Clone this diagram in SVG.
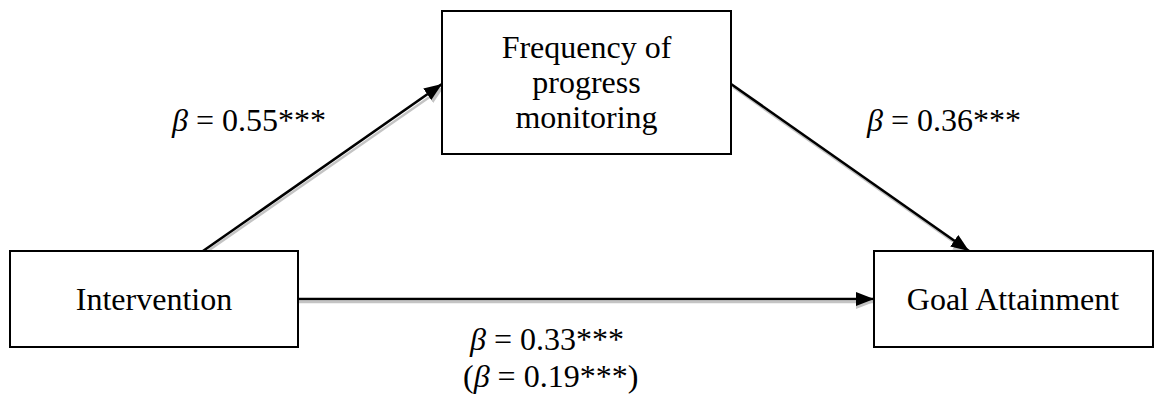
<svg xmlns="http://www.w3.org/2000/svg" width="1154" height="400" viewBox="0 0 1154 400">
  <style>
    .box { fill: #ffffff; stroke: #000000; stroke-width: 2; }
    .lbl { font-family: "Liberation Serif", "Times New Roman", serif; font-size: 32px; fill: #000000; }
    .beta { font-style: italic; }
    .edge { stroke: #000000; stroke-width: 2.6; fill: none; }
    .shadow { stroke: #c4c4c4; stroke-width: 2.5; fill: none; }
  </style>
  <defs>
    <marker id="arrow" markerUnits="userSpaceOnUse" markerWidth="18" markerHeight="14" refX="18" refY="7" orient="auto">
      <path d="M0,0 L18,7 L0,14 Z" fill="#000000"/>
    </marker>
    <marker id="arrowShadow" markerUnits="userSpaceOnUse" markerWidth="18" markerHeight="14" refX="18" refY="7" orient="auto">
      <path d="M0,0 L18,7 L0,14 Z" fill="#c4c4c4"/>
    </marker>
  </defs>

  <g id="connectors">
    <line class="shadow" x1="205" y1="253" x2="444" y2="87" marker-end="url(#arrowShadow)"/>
    <line class="shadow" x1="733" y1="87" x2="971" y2="254" marker-end="url(#arrowShadow)"/>
    <line class="shadow" x1="298" y1="302" x2="874" y2="302" marker-end="url(#arrowShadow)"/>
    <line class="edge" x1="203" y1="251" x2="442" y2="84" marker-end="url(#arrow)"/>
    <line class="edge" x1="731" y1="84" x2="969" y2="251" marker-end="url(#arrow)"/>
    <line class="edge" x1="298" y1="299" x2="874" y2="299" marker-end="url(#arrow)"/>
  </g>

  <g id="node-frequency">
    <rect class="box" x="442" y="11" width="289" height="143"/>
    <text class="lbl" x="586.5" y="58" text-anchor="middle">Frequency of</text>
    <text class="lbl" x="586.5" y="93" text-anchor="middle">progress</text>
    <text class="lbl" x="586.5" y="128" text-anchor="middle">monitoring</text>
  </g>

  <g id="node-intervention">
    <rect class="box" x="10" y="251" width="288" height="96"/>
    <text class="lbl" x="154" y="310" text-anchor="middle">Intervention</text>
  </g>

  <g id="node-goal">
    <rect class="box" x="874" y="251" width="279" height="96"/>
    <text class="lbl" x="1013" y="310" text-anchor="middle">Goal Attainment</text>
  </g>

  <g id="labels">
    <text class="lbl" x="172" y="131"><tspan class="beta">β</tspan> = 0.55***</text>
    <text class="lbl" x="867" y="131"><tspan class="beta">β</tspan> = 0.36***</text>
    <text class="lbl" x="470" y="350"><tspan class="beta">β</tspan> = 0.33***</text>
    <text class="lbl" x="463" y="387">(<tspan class="beta">β</tspan> = 0.19***)</text>
  </g>
</svg>
